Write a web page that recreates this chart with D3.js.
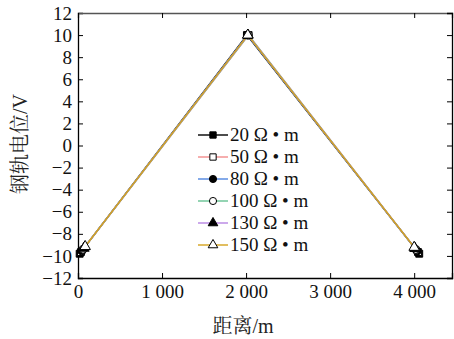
<!DOCTYPE html>
<html>
<head>
<meta charset="utf-8">
<script src="https://cdn.jsdelivr.net/npm/d3@7"></script>
<style>
  body { margin: 0; background: #fff; }
</style>
</head>
<body>
<div id="chart"></div>
<script>
// data
var xTicks = [0, 1000, 2000, 3000, 4000];
var yTicks = [-12, -10, -8, -6, -4, -2, 0, 2, 4, 6, 8, 10, 12];
var names = ["20 Ω • m", "50 Ω • m", "80 Ω • m", "100 Ω • m", "130 Ω • m", "150 Ω • m"];
var colors = ["#000000", "#f28b8b", "#4f86e0", "#66c293", "#b684e3", "#d4a31c"];
var shapes = ["square", "square", "circle", "circle", "triangle", "triangle"];
var filled = [true, false, true, false, true, false];
var dist = [
  [20, 2010, 4060],
  [35, 2030, 4045],
  [45, 2015, 4035],
  [60, 2028, 4020],
  [70, 2022, 4010],
  [85, 2020, 4000]
];
var volt = [
  [-9.80, 10, -9.80],
  [-9.65, 10, -9.65],
  [-9.55, 10, -9.56],
  [-9.40, 10, -9.41],
  [-9.30, 10, -9.32],
  [-9.15, 10, -9.22]
];

var latin = "Liberation Serif";
var cjk = "Noto Serif CJK SC";

var margin = { top: 13, right: 2, bottom: 61, left: 78 },
    W = 454, H = 339,
    width = W - margin.left - margin.right,
    height = H - margin.top - margin.bottom;

var svg = d3.select("#chart").append("svg")
    .attr("width", W).attr("height", H)
  .append("g")
    .attr("transform", "translate(" + margin.left + "," + margin.top + ")");

var x = d3.scaleLinear().domain([0, 4450]).range([0, width]);
var y = d3.scaleLinear().domain([-12, 12]).range([height, 0]);

var fmtX = function (d) { return d3.format(",")(d).replace(",", " "); };
var fmtY = function (d) { return d < 0 ? "\u2212" + Math.abs(d) : d; };

function styleTicks(g) {
  g.attr("font-family", latin).attr("font-size", 19);
  g.selectAll("text").attr("fill", "#111");
}

// axes with inward ticks
svg.append("g")
    .attr("transform", "translate(0," + height + ")")
    .call(d3.axisBottom(x).tickValues(xTicks).tickSize(-5).tickPadding(7).tickFormat(fmtX))
    .call(styleTicks);
svg.append("g")
    .call(d3.axisLeft(y).tickValues(yTicks).tickSize(-5).tickPadding(6).tickFormat(fmtY))
    .call(styleTicks);
svg.append("g")
    .call(d3.axisTop(x).tickValues(xTicks).tickSize(-5).tickFormat(""))
    .call(function (g) { g.select(".domain").attr("stroke", "#555"); });
svg.append("g")
    .attr("transform", "translate(" + width + ",0)")
    .call(d3.axisRight(y).tickValues(yTicks).tickSize(-5).tickFormat(""));
svg.selectAll(".domain").attr("stroke-width", 1.3);

// axis titles: chinese part in CJK serif, unit in latin serif
function title(sel, zh, unit) {
  sel.append("tspan").attr("font-family", cjk).text(zh);
  sel.append("tspan").attr("font-family", latin).text(unit);
}
svg.append("text")
    .attr("x", 243 - margin.left).attr("y", 333 - margin.top)
    .attr("text-anchor", "middle")
    .attr("font-size", 20).attr("fill", "#222")
    .call(title, "距离", "/m");
svg.append("text")
    .attr("transform", "translate(" + (27 - margin.left) + "," + (144 - margin.top) + ") rotate(-90)")
    .attr("text-anchor", "middle")
    .attr("font-size", 20).attr("fill", "#222")
    .call(title, "钢轨电位", "/V");

function marker(sel, shape, fill, size) {
  var sym = shape == "square" ? d3.symbolSquare : shape == "circle" ? d3.symbolCircle : d3.symbolTriangle;
  sel.append("path")
      .attr("d", d3.symbol().type(sym).size(size))
      .attr("fill", fill ? "#000" : "#fff")
      .attr("stroke", "#000")
      .attr("stroke-width", 1);
}

var line = d3.line()
    .x(function (d) { return x(d[0]); })
    .y(function (d) { return y(d[1]); });

names.forEach(function (n, i) {
  var pts = dist[i].map(function (d, j) { return [d, volt[i][j]]; });
  svg.append("path")
      .datum(pts)
      .attr("fill", "none")
      .attr("stroke", colors[i])
      .attr("stroke-width", 1.4)
      .attr("d", line);
});
names.forEach(function (n, i) {
  dist[i].forEach(function (d, j) {
    var g = svg.append("g").attr("transform", "translate(" + x(d) + "," + y(volt[i][j]) + ")");
    marker(g, shapes[i], filled[i], 48);
  });
});

// legend
var leg = svg.append("g").attr("transform", "translate(" + (198 - margin.left) + "," + (135 - margin.top) + ")");
names.forEach(function (n, i) {
  var row = leg.append("g").attr("transform", "translate(0," + i * 22 + ")");
  row.append("line")
      .attr("x1", 0).attr("x2", 30)
      .attr("y1", 0).attr("y2", 0)
      .attr("stroke", colors[i]).attr("stroke-width", 1.4);
  var g = row.append("g").attr("transform", "translate(15,0)");
  marker(g, shapes[i], filled[i], 40);
  row.append("text")
      .attr("x", 32).attr("y", 6)
      .attr("font-size", 19).attr("font-family", latin).attr("fill", "#111")
      .text(n);
});
</script>
</body>
</html>
